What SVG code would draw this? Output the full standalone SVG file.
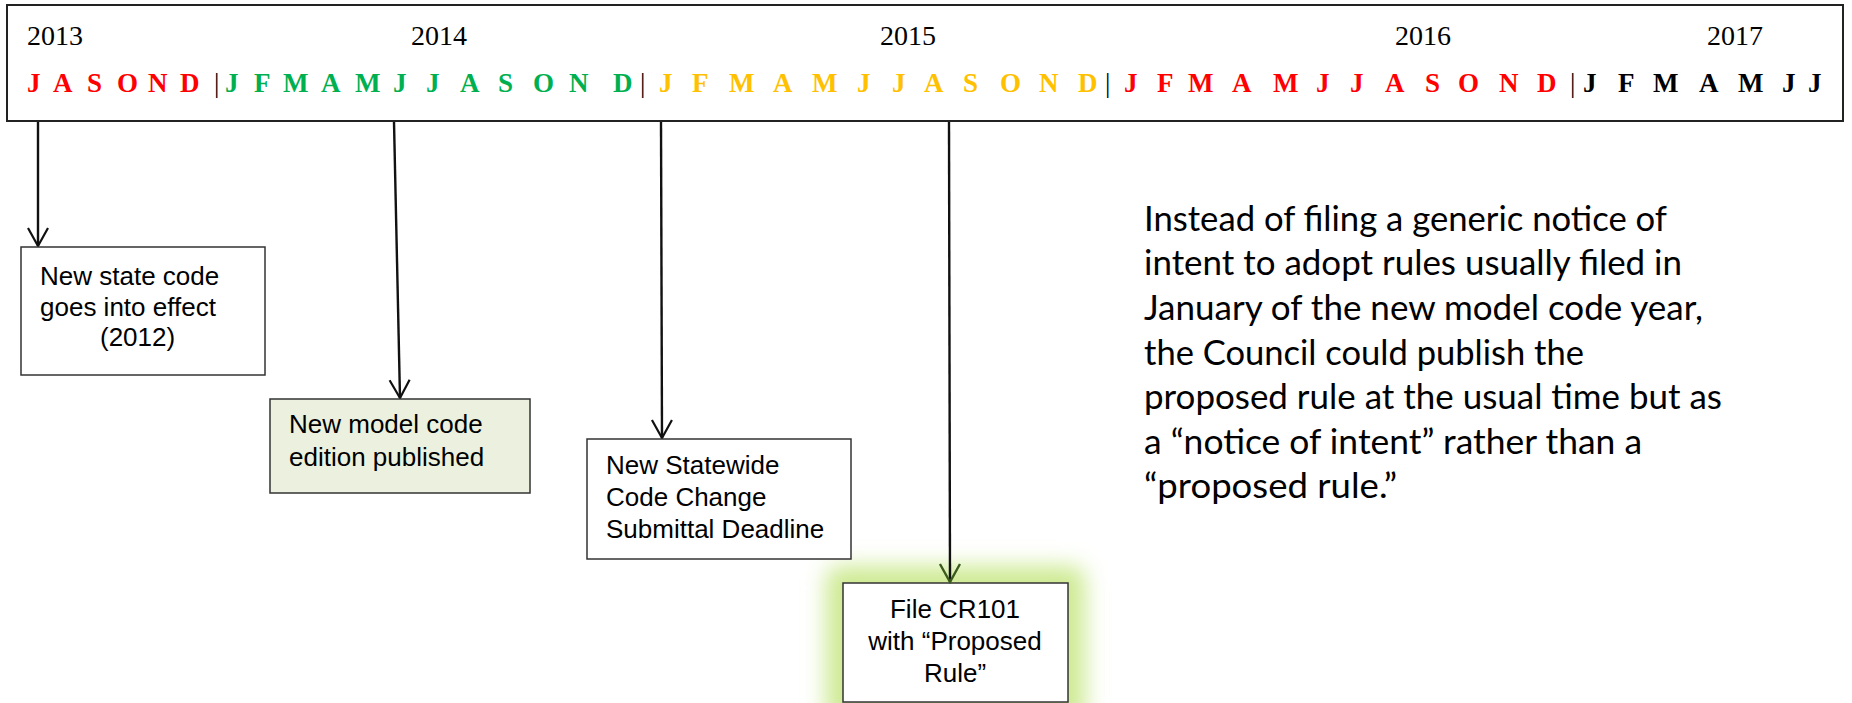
<svg xmlns="http://www.w3.org/2000/svg" width="1852" height="703" viewBox="0 0 1852 703">
<style>
.yr{font-family:"Liberation Serif","Times New Roman",serif;font-size:28px;fill:#000}
.m{font-family:"Liberation Serif","Times New Roman",serif;font-size:27px;font-weight:bold}
.sep{font-family:"Liberation Serif","Times New Roman",serif;font-size:27px;fill:#000}
.red{fill:#FF0000}.grn{fill:#00B050}.yel{fill:#FFC000}.blk{fill:#000}
.box{fill:#fff;stroke:#333;stroke-width:1.5}
.lbl{font-family:"Liberation Sans",Arial,sans-serif;font-size:26px;fill:#000}
.note{font-family:Lato,"Open Sans",sans-serif;font-size:34px;fill:#000}
.con{stroke:#111;stroke-width:2.4;fill:none}
</style>
<defs>
<marker id="ah" markerUnits="userSpaceOnUse" viewBox="-20 -12 22 24" refX="0" refY="0" markerWidth="22" markerHeight="24" orient="auto">
<path d="M-18,-10 L0,0 L-18,10" fill="none" stroke="#111" stroke-width="2.2"/>
</marker>
<marker id="ahg" markerUnits="userSpaceOnUse" viewBox="-20 -12 22 24" refX="0" refY="0" markerWidth="22" markerHeight="24" orient="auto">
<path d="M-18,-10 L0,0 L-18,10" fill="none" stroke="#3A5A1E" stroke-width="2.4"/>
</marker>
<filter id="glow" x="-40%" y="-40%" width="180%" height="180%">
<feGaussianBlur stdDeviation="11"/>
</filter>
</defs>

<g id="timeline">
<rect x="7" y="5" width="1836" height="116" fill="#fff" stroke="#222" stroke-width="2"/>
<text class="yr" x="27" y="45">2013</text>
<text class="yr" x="411" y="45">2014</text>
<text class="yr" x="880" y="45">2015</text>
<text class="yr" x="1395" y="45">2016</text>
<text class="yr" x="1707" y="45">2017</text>
<text class="m red" y="92" x="27 53 87 117 148 180">JASOND</text>
<text class="m grn" y="92" x="225 254 283 321 355 393 426 460 498 533 569 613">JFMAMJJASOND</text>
<text class="m yel" y="92" x="659 692 729 773 812 857 892 924 963 1000 1039 1078">JFMAMJJASOND</text>
<text class="m red" y="92" x="1124 1157 1188 1232 1273 1316 1350 1385 1425 1458 1499 1537">JFMAMJJASOND</text>
<text class="m blk" y="92" x="1583 1618 1653 1699 1738 1782 1808">JFMAMJJ</text>
<text class="sep" y="92" x="214">|</text>
<text class="sep" y="92" x="640">|</text>
<text class="sep" y="92" x="1105">|</text>
<text class="sep" y="92" x="1570">|</text>
</g>

<g id="node-cr101">
<rect x="826" y="566" width="259" height="160" rx="14" fill="#CDEA92" filter="url(#glow)"/>
<rect class="box" x="843" y="583" width="225" height="119"/>
<text class="lbl" x="955" y="618" text-anchor="middle">File CR101</text>
<text class="lbl" x="955" y="650" text-anchor="middle">with “Proposed</text>
<text class="lbl" x="955" y="682" text-anchor="middle">Rule”</text>
</g>

<g id="connectors">
<line class="con" x1="38" y1="122" x2="38" y2="246" marker-end="url(#ah)"/>
<line class="con" x1="394" y1="122" x2="400" y2="398" marker-end="url(#ah)"/>
<line class="con" x1="661" y1="122" x2="662" y2="438" marker-end="url(#ah)"/>
<line class="con" x1="949" y1="122" x2="950" y2="582" marker-end="url(#ahg)"/>
</g>

<g id="node-state-code">
<rect class="box" x="21" y="247" width="244" height="128"/>
<text class="lbl" x="40" y="285">New state code</text>
<text class="lbl" x="40" y="316">goes into effect</text>
<text class="lbl" x="100" y="346">(2012)</text>
</g>

<g id="node-model-code">
<rect class="box" x="270" y="399" width="260" height="94" style="fill:#EBF1DE"/>
<text class="lbl" x="289" y="433">New model code</text>
<text class="lbl" x="289" y="466">edition published</text>
</g>

<g id="node-deadline">
<rect class="box" x="587" y="439" width="264" height="120"/>
<text class="lbl" x="606" y="474">New Statewide</text>
<text class="lbl" x="606" y="506">Code Change</text>
<text class="lbl" x="606" y="538">Submittal Deadline</text>
</g>

<g id="note">
<text class="note" x="1144" y="231" textLength="523" lengthAdjust="spacingAndGlyphs">Instead of filing a generic notice of</text>
<text class="note" x="1144" y="275" textLength="538" lengthAdjust="spacingAndGlyphs">intent to adopt rules usually filed in</text>
<text class="note" x="1144" y="320" textLength="559" lengthAdjust="spacingAndGlyphs">January of the new model code year,</text>
<text class="note" x="1144" y="365" textLength="440" lengthAdjust="spacingAndGlyphs">the Council could publish the</text>
<text class="note" x="1144" y="409" textLength="578" lengthAdjust="spacingAndGlyphs">proposed rule at the usual time but as</text>
<text class="note" x="1144" y="454" textLength="498" lengthAdjust="spacingAndGlyphs">a “notice of intent” rather than a</text>
<text class="note" x="1144" y="498" textLength="253" lengthAdjust="spacingAndGlyphs">“proposed rule.”</text>
</g>
</svg>
